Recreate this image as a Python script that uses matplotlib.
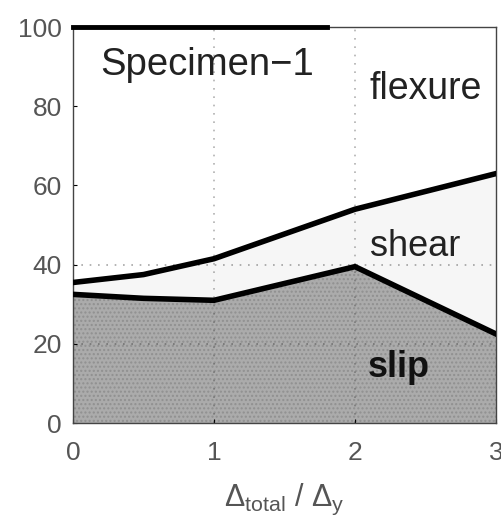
import numpy as np
import matplotlib.pyplot as plt

plt.rcParams['font.family'] = ['Liberation Sans', 'DejaVu Sans']
plt.rcParams['mathtext.fontset'] = 'custom'
plt.rcParams['mathtext.rm'] = 'Liberation Sans'
plt.rcParams['mathtext.it'] = 'Liberation Sans'

# deformation ratio and cumulative contributions (%)
ratio = [0, 0.5, 1, 2, 3]
slip_top = [32.5, 31.5, 31, 39.5, 22.5]
shear_top = [35.5, 37.5, 41.5, 54, 63]
total_x = [0, 1.8]
total_y = [100, 100]

fig = plt.figure(figsize=(5.02, 5.21), dpi=100)
ax = fig.add_axes([0.1454, 0.188, 0.8426, 0.760])

# stacked regions
ax.fill_between(ratio, 0, slip_top, color='#ababab', hatch='....',
                edgecolor='#909090', linewidth=0, zorder=1)
ax.fill_between(ratio, slip_top, shear_top, color='#f6f6f6', linewidth=0, zorder=1)

ax.plot(ratio, slip_top, color='black', lw=4, zorder=3)
ax.plot(ratio, shear_top, color='black', lw=4, zorder=3)
ax.plot(total_x, total_y, color='black', lw=3.5, zorder=3, clip_on=False)

# dotted guide lines
for gx in [1, 2]:
    ax.axvline(gx, color='#222222', lw=1.2, ls=(0, (1, 4)), alpha=0.35, zorder=2)
for gy in [20, 40]:
    ax.axhline(gy, color='#222222', lw=1.2, ls=(0, (1, 4)), alpha=0.4, zorder=2)

ax.set_xlim(0, 3)
ax.set_ylim(0, 100)
ax.set_xticks([0, 1, 2, 3])
ax.set_yticks([0, 20, 40, 60, 80, 100])
ax.tick_params(direction='in', length=3, labelsize=19, labelcolor='#555555')
ax.tick_params(axis='y', pad=8)
ax.tick_params(axis='x', pad=13)
for s in ax.spines.values():
    s.set_linewidth(1)
    s.set_color('#444444')

ax.text(0.19, 90.4, 'Specimen\u22121', fontsize=27.5, color='#222222', va='center')
ax.text(2.105, 84.3, 'flexure', fontsize=27, color='#222222', ha='left', va='center')
ax.text(2.105, 44.5, 'shear', fontsize=26, color='#222222', ha='left', va='center')
ax.text(2.09, 14, 'slip', fontsize=26, fontweight='bold', color='#111111', ha='left', va='center')

ax.set_xlabel(r'$\Delta_{\rm total}\ /\ \Delta_{\rm y}$', fontsize=22, color='#555555', labelpad=12)

fig.savefig('out.png', dpi=100)
